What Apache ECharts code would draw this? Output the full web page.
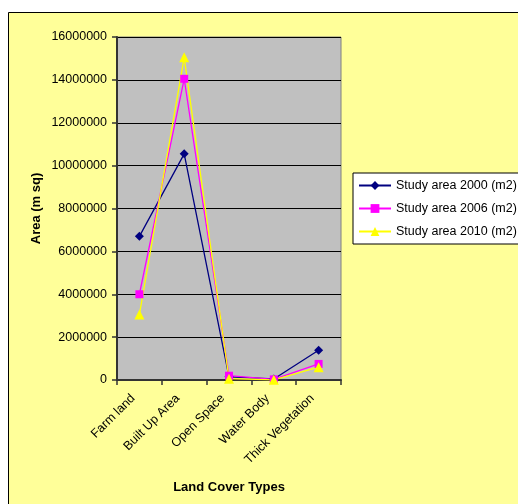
<!DOCTYPE html>
<html>
<head>
<meta charset="utf-8">
<script src="https://cdn.jsdelivr.net/npm/echarts@6/dist/echarts.min.js"></script>
<style>
  html, body { margin: 0; padding: 0; background: #ffffff; }
  #chart { width: 518px; height: 504px; }
</style>
</head>
<body>
<div id="chart"></div>
<script>
// Land cover categories along the x axis
const categories = ['Farm land', 'Built Up Area', 'Open Space', 'Water Body', 'Thick Vegetation'];

// Areas in square metres for each survey year
const area2000 = [6700000, 10550000, 150000, 50000, 1390000];
const area2006 = [4000000, 14050000, 200000, 30000, 750000];
const area2010 = [3050000, 15050000, 60000, 10000, 600000];

const seriesNames = ['Study area 2000 (m2)', 'Study area 2006 (m2)', 'Study area 2010 (m2)'];

const yMin = 0;
const yMax = 16000000;
const yStep = 2000000;

const FONT = 'Liberation Sans, Arial, sans-serif';
const chart = echarts.init(document.getElementById('chart'), null, { renderer: 'canvas' });

function lineSeries(name, data, color, symbol, size) {
  return {
    name: name,
    type: 'line',
    data: data,
    symbol: symbol,
    symbolSize: size,
    lineStyle: { color: color, width: 1.3 },
    itemStyle: { color: color, borderWidth: 0 },
    emphasis: { disabled: true },
    animation: false
  };
}

chart.setOption({
  backgroundColor: '#ffffff',
  textStyle: { fontFamily: FONT },
  graphic: [{
    type: 'rect',
    z: -10,
    shape: { x: 8.5, y: 12.5, width: 600, height: 600 },
    style: { fill: '#FFFF99', stroke: '#000000', lineWidth: 1 }
  }],
  grid: {
    left: 117, top: 37, width: 224, height: 343,
    show: true,
    backgroundColor: '#C0C0C0',
    borderColor: '#808080',
    borderWidth: 1
  },
  legend: {
    orient: 'vertical',
    left: 353, top: 173,
    data: seriesNames,
    itemWidth: 32,
    itemHeight: 11,
    itemGap: 10,
    padding: [6, 8, 6, 5],
    backgroundColor: '#ffffff',
    borderColor: '#000000',
    borderWidth: 1,
    textStyle: { fontFamily: FONT, fontSize: 12.5, color: '#000000' }
  },
  xAxis: {
    type: 'category',
    data: categories,
    boundaryGap: true,
    name: 'Land Cover Types',
    nameLocation: 'middle',
    nameGap: 101,
    nameTextStyle: { fontFamily: FONT, fontSize: 13, fontWeight: 'bold', color: '#000000' },
    axisLine: { lineStyle: { color: '#333333', width: 2 } },
    axisTick: { show: true, alignWithLabel: false, length: 5, lineStyle: { color: '#333333', width: 1.5 } },
    axisLabel: { rotate: 45, margin: 10, padding: [0, 9, 0, 0], fontFamily: FONT, fontSize: 12.5, color: '#000000', interval: 0 },
    splitLine: { show: false }
  },
  yAxis: {
    type: 'value',
    min: yMin, max: yMax, interval: yStep,
    name: 'Area (m sq)',
    nameLocation: 'middle',
    nameGap: 74,
    nameRotate: 90,
    nameTextStyle: { fontFamily: FONT, fontSize: 13, fontWeight: 'bold', color: '#000000' },
    axisLine: { show: true, lineStyle: { color: '#333333', width: 2 } },
    axisTick: { show: true, length: 5, lineStyle: { color: '#333333', width: 1.5 } },
    axisLabel: { margin: 10, fontFamily: FONT, fontSize: 12.5, color: '#000000', formatter: v => String(v) },
    splitLine: { show: true, lineStyle: { color: '#000000', width: 1 } }
  },
  series: [
    lineSeries(seriesNames[0], area2000, '#000080', 'diamond', 9),
    lineSeries(seriesNames[1], area2006, '#FF00FF', 'rect', 8),
    lineSeries(seriesNames[2], area2010, '#FFFF00', 'triangle', 10)
  ]
});
</script>
</body>
</html>
